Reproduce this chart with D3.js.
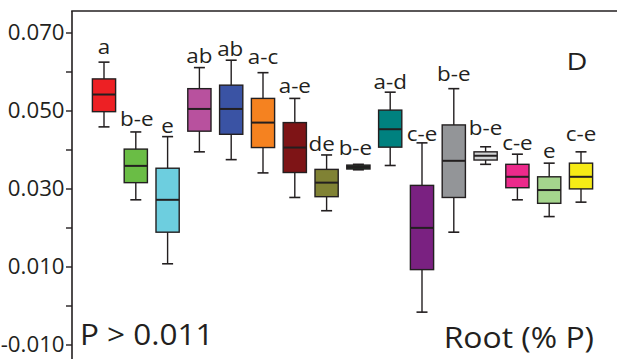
<!DOCTYPE html>
<html>
<head>
<meta charset="utf-8">
<script src="https://cdn.jsdelivr.net/npm/d3@7"></script>
<style>
  html, body { margin: 0; padding: 0; background: #fff; }
  svg { display: block; }
  text { font-family: "Open Sans", "Noto Sans", sans-serif; fill: #231f20; }
</style>
</head>
<body>
<svg id="chart" width="617" height="359"></svg>
<script>
// Root phosphorus concentration (% P) per genotype: five-number summaries
const groups = ["G1","G2","G3","G4","G5","G6","G7","G8","G9","G10","G11","G12","G13","G14","G15","G16"];
const whiskerHigh = [0.0624,0.0445,0.0433,0.0610,0.0629,0.0597,0.0531,0.0386,0.0362,0.0547,0.0417,0.0556,0.0407,0.0388,0.0365,0.0394];
const q3 =          [0.0581,0.0401,0.0352,0.0556,0.0565,0.0531,0.0469,0.0349,0.0360,0.0501,0.0308,0.0463,0.0394,0.0362,0.0330,0.0365];
const median =      [0.0541,0.0358,0.0271,0.0504,0.0504,0.0469,0.0405,0.0315,0.0355,0.0452,0.0199,0.0371,0.0384,0.0330,0.0296,0.0330];
const q1 =          [0.0497,0.0315,0.0188,0.0447,0.0439,0.0405,0.0341,0.0279,0.0350,0.0406,0.0092,0.0277,0.0373,0.0302,0.0262,0.0299];
const whiskerLow =  [0.0458,0.0271,0.0107,0.0394,0.0374,0.0340,0.0277,0.0243,0.0348,0.0359,-0.0017,0.0188,0.0362,0.0271,0.0228,0.0265];
const letters = ["a","b-e","e","ab","ab","a-c","a-e","de","b-e","a-d","c-e","b-e","b-e","c-e","e","c-e"];
const fills = ["#ed2024","#6abd45","#6dcedf","#b8519e","#3a53a4","#f58220","#7e1416","#808234","#1f4a2c","#00817f","#7a2181","#939598","#d1d3d4","#ec2a8b","#a5d58d","#f6eb16"];
// Nudges of each significance label relative to its whisker top (px)
const labelLift = [8,6,4,5,4,9,5,4,9,3,2,8,12,4,5,11];
const labelShift = [0,1,0,0,-1,0,0,-5,-3,0,0,0,0,0,0,0];
const yTicks = [-0.010, 0.010, 0.030, 0.050, 0.070];
const yMinorTicks = [0.000, 0.020, 0.040, 0.060];

const svg = d3.select("#chart");
const ink = "#231f20";

const y = d3.scaleLinear().domain([-0.010, 0.070]).range([344.5, 32.5]);
const x = d3.scalePoint().domain(groups).range([104, 581]);
const boxW = x.step() * 0.73;
const capW = 11;

// Text drawn with a slight horizontal stretch
function label(sel, px, py, str, size, sx, anchor) {
  return sel.append("text")
    .attr("transform", `translate(${px},${py}) scale(${sx},1)`)
    .attr("font-size", size)
    .attr("text-anchor", anchor || "start")
    .text(str);
}

// Frame: left axis and top border
svg.append("line").attr("x1", 72).attr("x2", 72).attr("y1", 11).attr("y2", 359)
  .attr("stroke", ink).attr("stroke-width", 1.6);
svg.append("line").attr("x1", 71.2).attr("x2", 617).attr("y1", 11).attr("y2", 11)
  .attr("stroke", ink).attr("stroke-width", 1.6);

// Y axis ticks and labels
const yAxis = d3.axisLeft(y).tickValues(yTicks).tickSize(6).tickPadding(0)
  .tickFormat(d3.format(".3f"));
const gAxis = svg.append("g").attr("transform", "translate(72,0)").call(yAxis);
gAxis.select(".domain").remove();
gAxis.selectAll(".tick line").attr("stroke", ink).attr("stroke-width", 1.4);
gAxis.selectAll(".tick text").attr("font-size", 21).attr("fill", ink)
  .attr("x", -7).attr("transform", "scale(1.06,1)")
  .text(d => d3.format(".3f")(d).replace("−", "-"));
const gMinor = svg.append("g").attr("transform", "translate(72,0)")
  .call(d3.axisLeft(y).tickValues(yMinorTicks).tickSize(6).tickFormat(""));
gMinor.select(".domain").remove();
gMinor.selectAll(".tick line").attr("stroke", ink).attr("stroke-width", 1.4);

// Box plots
const data = groups.map((g, i) => ({
  g, hi: whiskerHigh[i], q3: q3[i], med: median[i], q1: q1[i], lo: whiskerLow[i],
  letter: letters[i], fill: fills[i], lift: labelLift[i], shift: labelShift[i]
}));

const box = svg.append("g").selectAll("g").data(data).join("g")
  .attr("transform", d => `translate(${x(d.g)},0)`);

box.append("line").attr("x1", 0).attr("x2", 0)
  .attr("y1", d => y(d.hi)).attr("y2", d => y(d.lo))
  .attr("stroke", ink).attr("stroke-width", 1.4);
box.append("line").attr("x1", -capW / 2).attr("x2", capW / 2)
  .attr("y1", d => y(d.hi)).attr("y2", d => y(d.hi))
  .attr("stroke", ink).attr("stroke-width", 1.6);
box.append("line").attr("x1", -capW / 2).attr("x2", capW / 2)
  .attr("y1", d => y(d.lo)).attr("y2", d => y(d.lo))
  .attr("stroke", ink).attr("stroke-width", 1.6);
box.append("rect").attr("x", -boxW / 2).attr("width", boxW)
  .attr("y", d => y(d.q3)).attr("height", d => y(d.q1) - y(d.q3))
  .attr("fill", d => d.fill).attr("stroke", ink).attr("stroke-width", 1.4);
box.append("line").attr("x1", -boxW / 2).attr("x2", boxW / 2)
  .attr("y1", d => y(d.med)).attr("y2", d => y(d.med))
  .attr("stroke", ink).attr("stroke-width", 2);

box.each(function (d) {
  label(d3.select(this), d.shift, y(d.hi) - d.lift, d.letter, 20, 1.12, "middle");
});

// Annotations
label(svg, 577, 70, "D", 24, 1.2, "middle");
label(svg, 80, 345, "P > 0.011", 30, 1.05, "start");
label(svg, 594, 348, "Root (% P)", 29, 1.1, "end");
</script>
</body>
</html>
